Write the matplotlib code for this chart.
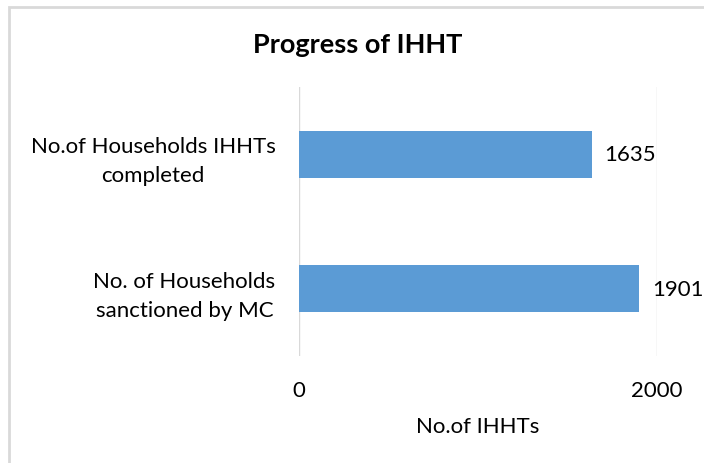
import matplotlib.pyplot as plt
from matplotlib.patches import Rectangle

categories = ['No. of Households\nsanctioned by MC', 'No.of Households IHHTs\ncompleted']
values = [1901, 1635]
xticks = [0, 2000]

plt.rcParams['font.family'] = ['Lato', 'DejaVu Sans']

fig = plt.figure(figsize=(7.04, 4.64), dpi=100)
ax = fig.add_axes([299 / 704, 1 - 357 / 464, 358 / 704, 269 / 464])

# light grey chart border, cut off at the right and bottom like the original
fig.patches.append(Rectangle((9 / 704, -0.1), 1.2, 1 - 8 / 464 + 0.1,
                             transform=fig.transFigure, fill=False,
                             edgecolor='#d9d9d9', linewidth=2))

bars = ax.barh(range(len(categories)), values, height=0.35, color='#5b9bd5', zorder=3)
for b, v in zip(bars, values):
    ax.annotate(str(v), (b.get_width(), b.get_y() + b.get_height() / 2),
                xytext=(9, 0), textcoords='offset points',
                va='center', ha='left', fontsize=16, color='#000000')

ax.set_xlim(0, 2000)
ax.set_ylim(-0.5, 1.5)
ax.set_xticks(xticks)
ax.set_xticklabels([str(t) for t in xticks], fontsize=16)
ax.set_yticks(range(len(categories)))
ax.set_yticklabels(categories, fontsize=16, ha='right', multialignment='center',
                   linespacing=1.55)
ax.tick_params(axis='y', length=0, pad=17)
ax.tick_params(axis='x', length=0, pad=17)
ax.grid(axis='x', color='#d9d9d9', linewidth=1, zorder=0)
for s in ax.spines.values():
    s.set_visible(False)

ax.set_xlabel('No.of IHHTs', fontsize=16, labelpad=12)
fig.text(358 / 704, 1 - 45 / 464, 'Progress of IHHT', ha='center', va='center',
         fontsize=19.5, fontweight='bold')

fig.savefig('out.png', dpi=100)
